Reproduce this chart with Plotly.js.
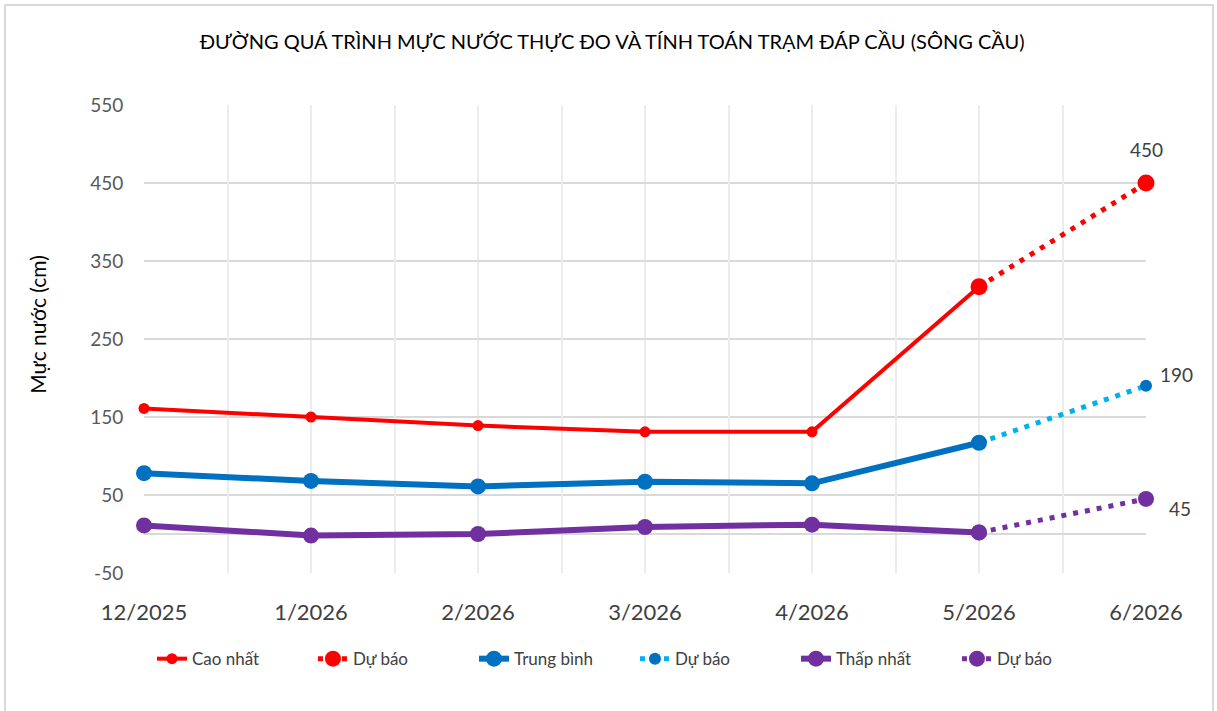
<!DOCTYPE html>
<html>
<head>
<meta charset="utf-8">
<script src="https://cdn.plot.ly/plotly-3.0.1.min.js"></script>
<style>
  html, body { margin: 0; padding: 0; background: #fff; }
  #wrap { position: relative; width: 1217px; height: 711px; }
  #chart { width: 1217px; height: 711px; }
  #frame { position: absolute; left: 4px; top: 4px; width: 1210px; height: 710px;
           border: 2px solid #d9d9d9; border-bottom: none; pointer-events: none; box-sizing: border-box; }
</style>
</head>
<body>
<div id="wrap">
  <div id="chart"></div>
  <div id="frame"></div>
</div>
<script>
// ---- data ----
const months = ['12/2025', '1/2026', '2/2026', '3/2026', '4/2026', '5/2026', '6/2026'];
const observedMonths = ['12/2025', '1/2026', '2/2026', '3/2026', '4/2026', '5/2026'];
const forecastMonths = ['5/2026', '6/2026'];

const caoNhat = [161, 150, 139, 131, 131, 317];
const caoNhatDuBao = [317, 450];
const trungBinh = [78, 68, 61, 67, 65, 117];
const trungBinhDuBao = [117, 190];
const thapNhat = [11, -2, 0, 9, 12, 2];
const thapNhatDuBao = [2, 45];

const yTickValues = [-50, 50, 150, 250, 350, 450, 550];
const yTickLabels = ['-50', '50', '150', '250', '350', '450', '550'];

const titleText = 'ĐƯỜNG QUÁ TRÌNH MỰC NƯỚC THỰC ĐO VÀ TÍNH TOÁN TRẠM ĐÁP CẦU (SÔNG CẦU)';
const yTitle = 'Mực nước (cm)';

// ---- styles ----
const RED = '#ff0000', BLUE = '#0070c0', LBLUE = '#00b0f0', PURPLE = '#7030a0';
const FONT = 'Lato, "Open Sans", sans-serif';

const traces = [
  { x: observedMonths, y: caoNhat, name: 'Cao nhất', mode: 'lines+markers',
    line: { color: RED, width: 4 }, marker: { color: RED, size: 11 } },
  { x: forecastMonths, y: caoNhatDuBao, name: 'Dự báo', mode: 'lines+markers',
    line: { color: RED, width: 5, dash: '5px,7px' }, marker: { color: RED, size: 17 } },
  { x: observedMonths, y: trungBinh, name: 'Trung bình', mode: 'lines+markers',
    line: { color: BLUE, width: 6 }, marker: { color: BLUE, size: 16 } },
  { x: forecastMonths, y: trungBinhDuBao, name: 'Dự báo', mode: 'lines+markers',
    line: { color: LBLUE, width: 5, dash: '5px,7px' }, marker: { color: BLUE, size: 12 } },
  { x: observedMonths, y: thapNhat, name: 'Thấp nhất', mode: 'lines+markers',
    line: { color: PURPLE, width: 6 }, marker: { color: PURPLE, size: 16 } },
  { x: forecastMonths, y: thapNhatDuBao, name: 'Dự báo', mode: 'lines+markers',
    line: { color: PURPLE, width: 5, dash: '5px,7px' }, marker: { color: PURPLE, size: 16 } }
];
traces.forEach(t => { t.hoverinfo = 'x+y+name'; t.cliponaxis = false; });
// empty helper trace so the overlaid grid axis (half-month gridlines) is drawn
traces.unshift({ x: [], y: [], xaxis: 'x2', yaxis: 'y', type: 'scatter', mode: 'lines',
                 showlegend: false, hoverinfo: 'skip' });

const last = forecastMonths.length - 1;
const labelFont = { family: FONT, size: 19, color: '#404040' };
const annotations = [
  { x: forecastMonths[last], y: caoNhatDuBao[last], xref: 'x', yref: 'y', text: String(caoNhatDuBao[last]),
    showarrow: false, yshift: 34, font: labelFont },
  { x: forecastMonths[last], y: trungBinhDuBao[last], xref: 'x', yref: 'y', text: String(trungBinhDuBao[last]),
    showarrow: false, xshift: 30, yshift: 11, font: labelFont },
  { x: forecastMonths[last], y: thapNhatDuBao[last], xref: 'x', yref: 'y', text: String(thapNhatDuBao[last]),
    showarrow: false, xshift: 34, yshift: -10, font: labelFont },
  { x: -0.107, y: 0.532, xref: 'paper', yref: 'paper', xanchor: 'center', yanchor: 'middle',
    text: yTitle, textangle: -90,
    showarrow: false, font: { family: FONT, size: 21, color: '#000000' } }
];

const layout = {
  width: 1217, height: 711,
  margin: { l: 144, r: 71, t: 105, b: 138 },
  paper_bgcolor: '#ffffff', plot_bgcolor: '#ffffff',
  font: { family: FONT, color: '#404040' },
  title: { text: titleText, x: 0.503, xanchor: 'center', y: 0.941, yanchor: 'middle',
           font: { family: FONT, size: 20, color: '#000000' } },
  showlegend: true,
  legend: { orientation: 'h', x: 0.49, xanchor: 'center', y: -0.184, yanchor: 'middle',
            font: { family: FONT, size: 17, color: '#404040' }, traceorder: 'normal',
            entrywidth: 116, entrywidthmode: 'pixels', bgcolor: 'rgba(0,0,0,0)' },
  xaxis: {
    type: 'category', categoryorder: 'array', categoryarray: months,
    range: [0, months.length - 1], showgrid: true, gridcolor: '#ececec', gridwidth: 1.5,
    showline: false, zeroline: false,
    ticks: 'outside', ticklen: 20, tickcolor: 'rgba(0,0,0,0)',
    tickfont: { family: FONT, size: 22, color: '#404040' }
  },
  xaxis2: {
    type: 'linear', overlaying: 'x', anchor: 'y', side: 'bottom', range: [0, months.length - 1],
    tick0: 0.5, dtick: 1, showgrid: true, gridcolor: '#ececec', gridwidth: 1.5,
    showticklabels: false, ticks: '', zeroline: false, showline: false
  },
  yaxis: {
    range: [-50, 550], tickmode: 'array', tickvals: yTickValues, ticktext: yTickLabels,
    showgrid: true, gridcolor: '#d9d9d9', gridwidth: 2,
    zeroline: true, zerolinecolor: '#d9d9d9', zerolinewidth: 2, showline: false,
    ticks: 'outside', ticklen: 16, tickcolor: 'rgba(0,0,0,0)',
    tickfont: { family: FONT, size: 19, color: '#595959' }
  },
  annotations: annotations
};

Plotly.newPlot('chart', traces, layout, { displayModeBar: false, responsive: false });
</script>
</body>
</html>
